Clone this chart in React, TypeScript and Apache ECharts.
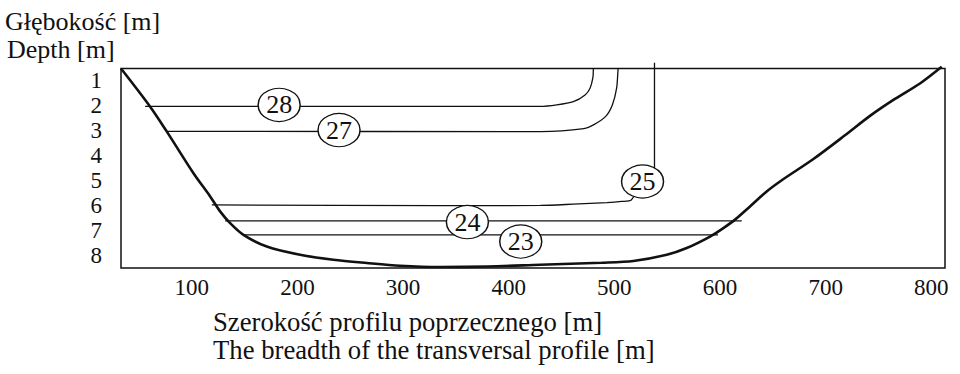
import React, { useEffect, useRef } from "react";
import * as echarts from "echarts";

// X tick labels and Y tick labels
const xTicks = [100, 200, 300, 400, 500, 600, 700, 800];
const yTicks = [1, 2, 3, 4, 5, 6, 7, 8];

// River bed profile (breadth [m], depth [m])
const bedX = [33, 60.6, 76.4, 101.6, 117.4, 126.8, 136.3, 148.9, 171.0, 202.5, 234.0, 265.6, 297.2, 335.0, 380, 429.7, 488, 518.0, 549.6, 568.5, 590.6, 603.2, 614.5, 628.4, 644.2, 658.5, 688.1, 718.3, 742.0, 765.6, 789.3, 809.9];
const bedDepth = [0.5, 2.03, 3.03, 4.70, 5.63, 6.23, 6.70, 7.17, 7.64, 7.97, 8.17, 8.30, 8.41, 8.46, 8.44, 8.37, 8.29, 8.22, 7.97, 7.70, 7.24, 6.90, 6.55, 6.03, 5.43, 4.98, 4.14, 3.18, 2.40, 1.72, 1.10, 0.43];

// Isolines
const line28X = [55.8, 429.7, 445.5, 461.2, 472.3, 477.0, 479.6, 480.1, 480.1];
const line28Depth = [2.02, 2.02, 1.96, 1.83, 1.56, 1.29, 0.89, 0.56, 0.5];
const line27X = [76.3, 430.2, 471.2, 480.7, 491.8, 498.2, 502.2, 503.5, 503.6];
const line27Depth = [3.02, 3.03, 2.91, 2.75, 2.42, 1.95, 1.28, 0.54, 0.5];
const line25X = [119, 335, 430, 461, 493, 507, 516, 526.7, 538, 538];
const line25Depth = [5.97, 6.0, 5.99, 5.94, 5.88, 5.83, 5.77, 5.03, 4.5, 0.27];
const line24X = [131.6, 620.6];
const line24Depth = [6.61, 6.61];
const line23X = [148.9, 598.1];
const line23Depth = [7.17, 7.17];

// Isoline labels
const labelNames = ["28", "27", "25", "24", "23"];
const labelX = [182.7, 239.4, 526.7, 360.9, 411.4];
const labelDepth = [1.96, 2.97, 5.03, 6.66, 7.44];

const FONT = "Liberation Serif";
const INK = "#111";

const zip = (xs: number[], ys: number[]) => xs.map((x, i) => [x, ys[i]]);

const isoline = (xs: number[], ys: number[]) => ({
  type: "line",
  data: zip(xs, ys),
  symbol: "none",
  clip: false,
  smooth: 0.25,
  lineStyle: { color: INK, width: 1.3 },
  z: 3,
});

const titleText = (text: string, left: number, top: number, size: number) => ({
  type: "text",
  left,
  top,
  style: { text, fontFamily: FONT, fontSize: size, fill: INK },
});

export default function App() {
  const ref = useRef<HTMLDivElement>(null);
  useEffect(() => {
    if (!ref.current) return;
    const chart = echarts.init(ref.current, null, { renderer: "svg" });
    chart.setOption({
      animation: false,
      backgroundColor: "#fff",
      textStyle: { fontFamily: FONT },
      grid: {
        left: 121,
        right: 15,
        top: 68.5,
        bottom: 106,
        show: true,
        borderColor: INK,
        borderWidth: 1.5,
      },
      xAxis: {
        type: "value",
        min: 33,
        max: 813,
        axisLine: { show: false },
        axisTick: { show: false },
        splitLine: { show: false },
        axisLabel: {
          customValues: xTicks,
          fontFamily: FONT,
          fontSize: 23,
          color: INK,
          margin: 8,
        },
      },
      yAxis: {
        type: "value",
        inverse: true,
        min: 0.5,
        max: 8.5,
        axisLine: { show: false },
        axisTick: { show: false },
        splitLine: { show: false },
        axisLabel: {
          customValues: yTicks,
          fontFamily: FONT,
          fontSize: 23,
          color: INK,
          margin: 19,
        },
      },
      graphic: [
        titleText("Głębokość [m]", 5, 8, 26),
        titleText("Depth [m]", 7, 36, 26),
        titleText("Szerokość profilu poprzecznego [m]", 213, 308, 26.7),
        titleText("The breadth of the transversal profile [m]", 213, 336, 26.7),
      ],
      series: [
        {
          type: "line",
          data: zip(bedX, bedDepth),
          symbol: "none",
          clip: false,
          smooth: 0.3,
          lineStyle: { color: INK, width: 2.6 },
          z: 4,
        },
        isoline(line28X, line28Depth),
        isoline(line27X, line27Depth),
        isoline(line25X, line25Depth),
        isoline(line24X, line24Depth),
        isoline(line23X, line23Depth),
        {
          type: "scatter",
          data: labelNames.map((n, i) => ({ name: n, value: [labelX[i], labelDepth[i]] })),
          symbol: "circle",
          symbolSize: [42, 33],
          clip: false,
          itemStyle: { color: "#fff", borderColor: INK, borderWidth: 1.3, opacity: 1 },
          label: {
            show: true,
            position: "inside",
            formatter: (p: any) => p.name,
            fontFamily: FONT,
            fontSize: 26,
            color: INK,
          },
          z: 10,
        },
      ],
    });
    return () => chart.dispose();
  }, []);
  return <div ref={ref} style={{ position: "fixed", left: 0, top: 0, width: 960, height: 374 }} />;
}
